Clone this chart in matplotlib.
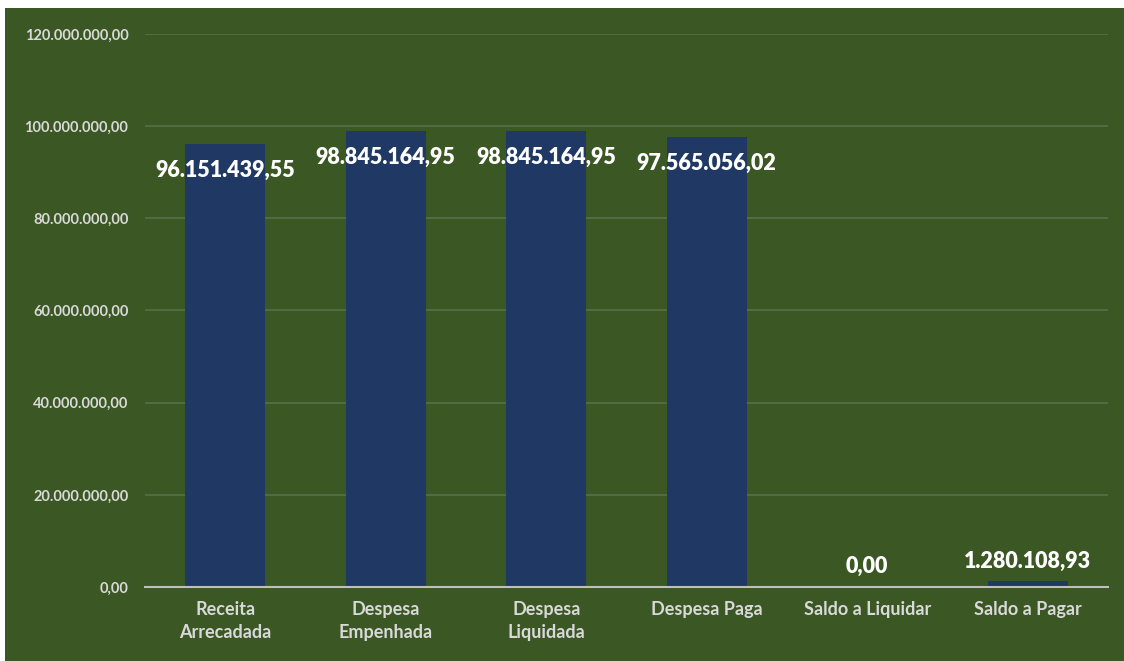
import matplotlib
matplotlib.use("Agg")
import matplotlib.pyplot as plt
from matplotlib.patches import Rectangle
from matplotlib.ticker import FuncFormatter

categorias = ["Receita\nArrecadada", "Despesa\nEmpenhada", "Despesa\nLiquidada",
              "Despesa Paga", "Saldo a Liquidar", "Saldo a Pagar"]
valores = [96151439.55, 98845164.95, 98845164.95, 97565056.02, 0.00, 1280108.93]
yticks = [0, 20e6, 40e6, 60e6, 80e6, 100e6, 120e6]

verde = "#3B5723"
azul = "#1F3864"
cinza = "#D9D9D9"


def fmt_br(v, pos=None):
    s = f"{v:,.2f}"
    return s.replace(",", "X").replace(".", ",").replace("X", ".")


plt.rcParams['font.family'] = ['Lato', 'DejaVu Sans']

fig = plt.figure(figsize=(11.24, 6.61), dpi=100, facecolor="white")
fig.patches.append(Rectangle((5 / 1124, 0), 1, (661 - 8) / 661,
                             transform=fig.transFigure, facecolor=verde,
                             edgecolor="none", zorder=-10))

ax = fig.add_axes([145 / 1124, (661 - 587) / 661, (1108 - 145) / 1124, (587 - 34) / 661])
ax.set_zorder(1)
ax.patch.set_alpha(0)

x = range(len(categorias))
bars = ax.bar(x, valores, width=0.5, color=azul, zorder=3)

ax.set_ylim(0, 120e6)
ax.set_xlim(-0.5, len(categorias) - 0.5)
ax.set_yticks(yticks)
ax.yaxis.set_major_formatter(FuncFormatter(fmt_br))
ax.set_xticks(list(x))
ax.set_xticklabels(categorias, linespacing=1.45)
ax.grid(axis="y", color="#56704A", linewidth=1.2, zorder=0)

for s in ["top", "right", "left"]:
    ax.spines[s].set_visible(False)
ax.spines["bottom"].set_color("#BFBFBF")
ax.spines["bottom"].set_linewidth(1.5)
ax.spines["bottom"].set_zorder(4)

ax.tick_params(axis="y", length=0, pad=12, labelsize=10.5, labelcolor=cinza)
ax.tick_params(axis="x", length=0, pad=10, labelsize=13, labelcolor=cinza)
for lbl in ax.get_yticklabels() + ax.get_xticklabels():
    lbl.set_fontweight("bold")

for b, v in zip(bars, valores):
    cx = b.get_x() + b.get_width() / 2
    if v > 10e6:
        ax.annotate(fmt_br(v), (cx, v), xytext=(0, -19), textcoords="offset points",
                    ha="center", va="center", color="white", fontsize=15.5,
                    fontweight="heavy", zorder=5)
    else:
        ax.annotate(fmt_br(v), (cx, v), xytext=(0, 14.5), textcoords="offset points",
                    ha="center", va="center", color="white", fontsize=15.5,
                    fontweight="heavy", zorder=5)

fig.savefig("out.png", dpi=100, facecolor="white")
